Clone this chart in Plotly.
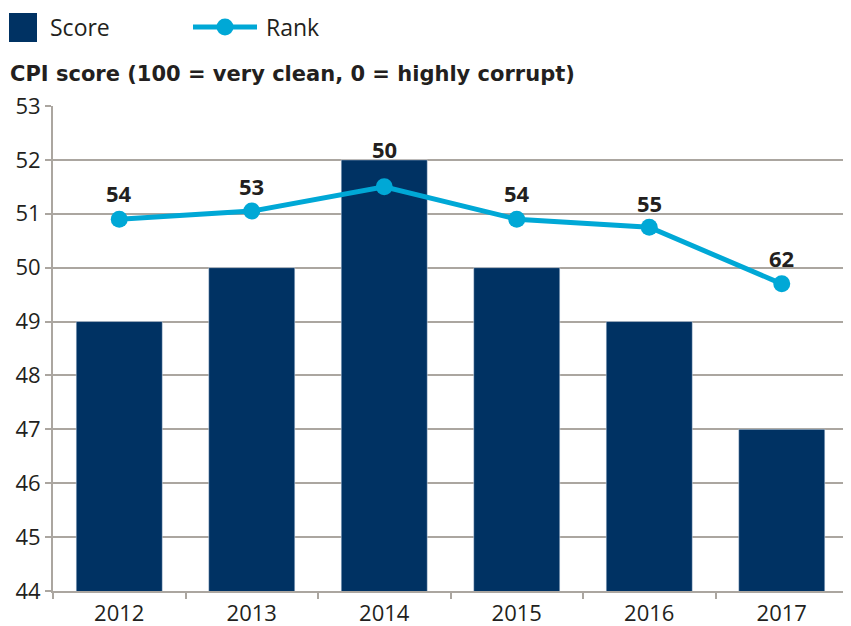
import plotly.graph_objects as go

years = ["2012", "2013", "2014", "2015", "2016", "2017"]
score = [49, 50, 52, 50, 49, 47]
rank = [54, 53, 50, 54, 55, 62]
label_shift = [26, 25, 38, 26, 24, 26]

BAR = "#003263"
LINE = "#00A8D6"
GRID = "#ABA6A0"
TXT = "#231F20"
FONT = "Open Sans"

fig = go.Figure()
fig.add_trace(go.Bar(x=years, y=score, marker_color=BAR, width=0.65, name="Score",
                     showlegend=False))
fig.add_trace(go.Scatter(x=years, y=rank, yaxis="y2", mode="lines+markers",
                         line=dict(color=LINE, width=5), marker=dict(color=LINE, size=17),
                         name="Rank", showlegend=False, cliponaxis=False))

annotations = []
for i, (r, s) in enumerate(zip(rank, label_shift)):
    annotations.append(dict(x=i, y=r, xref="x", yref="y2", text="<b>%d</b>" % r,
                            showarrow=False, yshift=s, yanchor="middle",
                            font=dict(family=FONT, size=22, color=TXT)))

def py(page_y):
    return 1 + (106 - page_y) / 485

def px(page_x):
    return (page_x - 53) / 795

annotations += [
    dict(text="Score", xref="paper", yref="paper", x=px(48), y=py(27),
         xanchor="left", yanchor="middle", showarrow=False,
         font=dict(size=23, color=TXT)),
    dict(text="Rank", xref="paper", yref="paper", x=px(264), y=py(27),
         xanchor="left", yanchor="middle", showarrow=False,
         font=dict(size=23, color=TXT)),
    dict(text="<b>CPI score (100 = very clean, 0 = highly corrupt)</b>", xref="paper",
         yref="paper", x=px(8), y=py(74),
         xanchor="left", yanchor="middle", showarrow=False,
         font=dict(family="DejaVu Sans", size=21, color=TXT)),
]

fig.update_layout(
    width=843, height=618,
    margin=dict(l=45, r=3, t=98, b=35, autoexpand=False),
    plot_bgcolor="white", paper_bgcolor="white",
    font=dict(family=FONT, color=TXT),
    xaxis=dict(type="category", range=[-0.5, len(years) - 0.5], showline=True,
               linecolor=GRID, linewidth=2, ticks="outside", automargin=False,
               tickson="boundaries", ticklen=6, tickcolor=GRID, tickwidth=2,
               ticklabelstandoff=2,
               tickfont=dict(size=22, color=TXT), showgrid=False),
    yaxis=dict(range=[44, 53], dtick=1, showline=True, linecolor=GRID, linewidth=2,
               ticks="outside", ticklen=6, tickcolor=GRID, tickwidth=2,
               automargin=False,
               gridcolor=GRID, gridwidth=2, tickfont=dict(size=22, color=TXT),
               zeroline=False),
    yaxis2=dict(range=[100, 40], overlaying="y", side="right", visible=False),
    shapes=[
        dict(type="rect", xref="paper", yref="paper", x0=px(9), x1=px(37),
             y0=py(42), y1=py(13), fillcolor=BAR, line_width=0),
        dict(type="line", xref="paper", yref="paper", x0=px(193), x1=px(257),
             y0=py(27), y1=py(27), line=dict(color=LINE, width=5)),
        dict(type="circle", xref="paper", yref="paper",
             x0=px(225 - 8.5), x1=px(225 + 8.5), y0=py(27 + 8.5), y1=py(27 - 8.5),
             fillcolor=LINE, line_width=0),
    ],
    annotations=annotations,
)

fig.write_html("out.html")
